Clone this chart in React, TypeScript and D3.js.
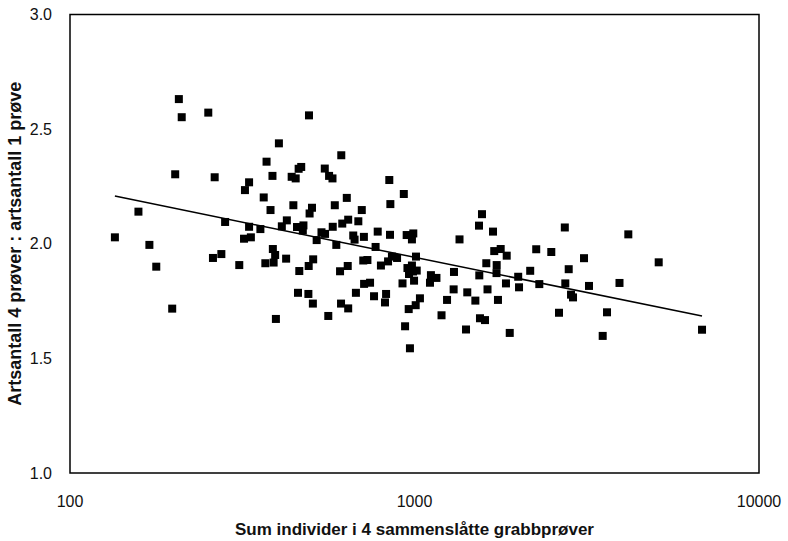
import React from "react";
import * as d3 from "d3";

const xValues = [135,158,170,178,198,202,207,211,252,263,260,275,282,310,322,331,331,320,335,357,365,372,382,387,388,394,390,369,396,404,412,426,424,440,452,445,456,476,474,461,469,459,463,493,492,494,504,496,507,508,520,537,550,549,562,565,578,579,587,593,608,612,613,617,636,640,642,642,664,670,676,687,703,710,730,713,714,743,763,771,782,799,827,821,838,845,851,849,860,890,923,931,939,954,983,990,1015,964,997,949,992,983,962,1008,1037,970,1010,1109,1116,1158,1198,1243,1302,1299,1351,1411,1423,1502,1542,1549,1602,1539,1570,1616,1629,1690,1704,1779,1732,1730,1747,1852,1843,1890,2000,2011,2167,2256,2303,2495,2627,2731,2740,2803,2847,2885,3105,3210,3518,3621,3936,4175,5115,6833];
const yValues = [2.028,2.140,1.995,1.900,1.717,2.303,2.631,2.552,2.572,2.290,1.938,1.955,2.095,1.907,2.234,2.268,2.074,2.022,2.028,2.064,2.202,2.358,2.147,2.296,1.977,1.951,1.918,1.915,1.672,2.438,2.076,2.102,1.935,2.292,2.285,2.168,2.073,2.080,2.058,2.327,2.335,1.786,1.881,1.903,1.781,2.560,2.157,2.132,1.739,1.932,2.016,2.050,2.043,2.328,1.685,2.296,2.285,2.074,2.168,1.995,1.880,1.739,2.386,2.088,2.200,1.903,2.105,1.718,2.036,2.018,1.786,2.098,2.147,1.927,1.929,2.030,1.825,1.830,1.771,1.986,2.053,1.905,1.781,1.744,1.923,2.278,2.173,2.039,1.944,1.938,1.827,2.217,1.640,1.894,1.905,1.879,1.883,1.868,1.839,2.038,2.045,2.019,1.715,1.732,1.762,1.544,1.944,1.830,1.863,1.851,1.688,1.755,1.877,1.801,2.019,1.626,1.788,1.752,1.862,1.675,1.667,2.079,2.129,1.915,1.801,2.053,1.968,1.977,1.907,1.872,1.755,1.948,1.827,1.611,1.856,1.810,1.882,1.976,1.824,1.964,1.699,2.071,1.827,1.889,1.778,1.766,1.937,1.816,1.598,1.701,1.829,2.041,1.919,1.625];

const xTicks = [100, 1000, 10000];
const yTicks = [1.0, 1.5, 2.0, 2.5, 3.0];
const trendIntercept = 2.862;
const trendSlope = -0.307;

const xTitle = "Sum individer i 4 sammenslåtte grabbprøver";
const yTitle = "Artsantall 4 prøver : artsantall 1 prøve";

export default function App() {
  const W = 788, H = 541;
  const left = 70, right = 759, top = 14.5, bottom = 473;
  const x = d3.scaleLog().domain([100, 10000]).range([left, right]);
  const y = d3.scaleLinear().domain([1, 3]).range([bottom, top]);
  const pts = xValues.map((v, i) => [v, yValues[i]] as [number, number]);
  const xMin = d3.min(xValues) as number;
  const xMax = d3.max(xValues) as number;
  const trend = [xMin, xMax].map((v) => [v, trendIntercept + trendSlope * Math.log10(v)] as [number, number]);
  const line = d3.line<[number, number]>().x((d) => x(d[0])).y((d) => y(d[1]));
  const font = "'Liberation Sans', Arial, Helvetica, sans-serif";
  const s = 8;
  return (
    <svg width={W} height={H} style={{ position: "absolute", left: 0, top: 0, background: "#fff" }} fontFamily={font}>
      <rect x={0} y={0} width={W} height={H} fill="#fff" />
      <rect x={left} y={top} width={right - left} height={bottom - top} fill="none" stroke="#000" strokeWidth={1.5} />
      {yTicks.map((t) => (
        <text key={t} x={52} y={y(t)} dy="0.35em" textAnchor="end" fontSize={16} fill="#111">{t.toFixed(1)}</text>
      ))}
      {xTicks.map((t) => (
        <text key={t} x={x(t)} y={507} textAnchor="middle" fontSize={16} fill="#111">{String(t)}</text>
      ))}
      <path d={line(trend) || ""} fill="none" stroke="#000" strokeWidth={1.5} />
      {pts.map((p, i) => (
        <rect key={i} x={x(p[0]) - s / 2} y={y(p[1]) - s / 2} width={s} height={s} fill="#000" />
      ))}
      <text x={(left + right) / 2} y={535} textAnchor="middle" fontSize={17} fontWeight="bold" fill="#111">{xTitle}</text>
      <text transform={`translate(21, ${(top + bottom) / 2}) rotate(-90)`} textAnchor="middle" fontSize={18} fontWeight="bold" fill="#111">{yTitle}</text>
    </svg>
  );
}
